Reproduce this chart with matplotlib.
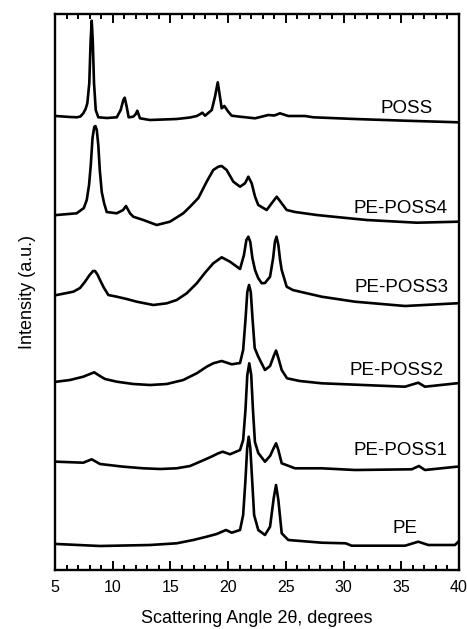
import matplotlib
matplotlib.use("Agg")
import matplotlib.pyplot as plt
from matplotlib.ticker import MultipleLocator

plt.rcParams['font.family'] = ['Liberation Sans', 'DejaVu Sans']

# ---- data (2-theta in degrees, stacked intensity in a.u.) ----
poss_x = [5.09, 6.30, 6.88, 7.20, 7.45, 7.65, 7.80, 7.97, 8.09, 8.18, 8.27, 8.38, 8.53, 8.75,
          9.50, 10.35, 10.69, 10.92, 11.04, 11.21, 11.38, 11.78, 12.00, 12.13, 12.36, 13.23,
          15.54, 16.70, 17.28, 17.60, 17.76, 18.00, 18.58, 18.86, 19.10, 19.29, 19.44, 19.67,
          20.01, 20.31, 21.03, 22.33, 23.48, 24.00, 24.49, 25.21, 26.66, 27.38, 30.99, 35.32,
          39.94]
poss_y = [454, 453, 452.7, 453.5, 456.7, 461, 466.7, 486.7, 530, 549.3, 530, 487, 460, 452.7,
          452, 452.7, 460, 470, 472.3, 463.3, 452.7, 453.3, 456, 459.3, 451.7, 450,
          451, 452.5, 454, 456, 457.3, 454.3, 460, 473.3, 487.7, 473.3, 461.7, 464,
          458.3, 454.3, 453.3, 451.7, 455, 454.5, 456.7, 454, 454, 452.7, 451, 449.3,
          447.7]

poss4_x = [5.15, 6.88, 7.50, 7.75, 7.95, 8.10, 8.25, 8.40, 8.50, 8.62, 8.75, 8.88, 9.05, 9.25,
           9.48, 10.35, 10.90, 11.15, 11.50, 11.78, 12.65, 13.81, 14.96, 16.11, 16.70, 17.42,
           18.14, 18.71, 19.15, 19.44, 19.87, 20.45, 21.03, 21.46, 21.75, 22.04, 22.33, 22.61,
           23.34, 23.77, 24.21, 24.64, 25.07, 25.80, 27.67, 29.11, 32.00, 36.34, 39.94]
poss4_y = [355, 356.7, 362, 370, 385, 405, 432, 443, 444, 440, 425, 400, 378, 367,
           358, 356.7, 360, 364, 356.7, 353.3, 350, 345, 348.3, 356.7, 363.3, 372,
           388.3, 400, 403.3, 404, 400, 388.3, 383.3, 386.7, 393.3, 386.7, 373.3, 365,
           360, 366.7, 373.3, 366.7, 360, 358, 355, 353.3, 350, 347.3, 348.3]

poss3_x = [5.15, 6.59, 7.17, 7.60, 8.00, 8.30, 8.47, 8.70, 8.90, 9.20, 9.62, 10.35, 11.21,
           12.08, 13.52, 14.68, 15.54, 16.41, 17.28, 18.00, 18.71, 19.44, 20.16, 21.03, 21.37,
           21.58, 21.75, 21.92, 22.10, 22.33, 22.60, 22.91, 23.19, 23.63, 23.90, 24.05, 24.19,
           24.35, 24.50, 24.64, 25.07, 25.60, 26.22, 28.10, 30.99, 35.32, 39.80]
poss3_y = [275, 278.3, 282, 288.3, 295, 299, 299, 295, 290, 283, 275, 273.3, 271,
           268.3, 265, 266.7, 270, 276.7, 286.7, 297.3, 306.7, 312.7, 308.3, 301, 315,
           330, 333.3, 328, 312, 300, 292, 286.7, 287, 293.3, 312, 328, 333.3,
           325, 310, 300, 283.3, 280, 278.3, 273.3, 268.3, 264, 266.7]

poss2_x = [5.15, 6.30, 7.45, 8.03, 8.40, 8.75, 9.33, 10.35, 11.78, 13.23, 14.68, 16.11, 17.28,
           18.14, 18.71, 19.44, 20.31, 21.03, 21.30, 21.50, 21.66, 21.81, 21.96, 22.12, 22.30,
           22.61, 23.19, 23.63, 23.95, 24.15, 24.35, 24.64, 25.10, 26.20, 28.10, 35.32, 36.47,
           37.05, 39.80]
poss2_y = [188.3, 190, 193.3, 196, 197.7, 195, 191, 188.3, 186, 185, 186, 190, 196.7,
           203.3, 206.7, 209, 205.7, 207, 220, 250, 278, 285, 278, 250, 222,
           213.3, 200, 204, 214, 219.5, 212, 200, 191.7, 189, 186.7, 183.3, 187.3,
           183.3, 186.7]

poss1_x = [5.15, 7.45, 8.18, 8.90, 10.92, 12.65, 14.10, 15.54, 16.70, 17.56, 18.43, 19.15,
           19.53, 20.16, 21.03, 21.30, 21.50, 21.66, 21.83, 22.00, 22.15, 22.32, 22.61, 23.19,
           23.63, 23.95, 24.15, 24.35, 24.64, 25.79, 28.10, 30.99, 35.90, 36.53, 37.05, 39.80]
poss1_y = [108.3, 107.3, 110.7, 106, 103.3, 101.7, 101, 101.7, 104, 108.3, 112.7, 116.7,
           118.3, 115.7, 120, 130, 160, 195, 206.7, 195, 160, 128, 117, 108.3,
           114, 122, 126.7, 120, 106.7, 101.7, 101.7, 100, 100.7, 104, 100, 103.3]

pe_x = [5.15, 8.90, 13.23, 15.54, 16.98, 18.14, 19.01, 19.81, 20.31, 21.03, 21.30, 21.50,
        21.65, 21.78, 21.92, 22.08, 22.25, 22.61, 23.19, 23.63, 23.95, 24.15, 24.35, 24.64,
        25.21, 28.10, 30.18, 30.70, 35.32, 36.47, 37.34, 39.65, 39.94]
pe_y = [26, 24, 25, 26.7, 30, 33.3, 36, 40, 37.3, 40, 55, 90,
        122, 133.3, 122, 90, 55, 40, 35, 43.3, 72, 85, 70, 36.7,
        30, 27.3, 26.7, 24.3, 24.3, 28.3, 25, 25, 28.3]

sample_names = ["POSS", "PE-POSS4", "PE-POSS3", "PE-POSS2", "PE-POSS1", "PE"]
label_x = [35.5, 34.9, 35.0, 34.6, 34.9, 35.3]
label_y = [456.7, 356.7, 278.3, 195, 115, 37.3]

xticks = [5, 10, 15, 20, 25, 30, 35, 40]

# ---- figure ----
fig = plt.figure(figsize=(4.67, 6.29), dpi=100)
ax = fig.add_axes([55/467, 59/629, 404/467, 556/629])

series = [(poss_x, poss_y), (poss4_x, poss4_y), (poss3_x, poss3_y),
          (poss2_x, poss2_y), (poss1_x, poss1_y), (pe_x, pe_y)]
for (xs, ys) in series:
    ax.plot(xs, ys, color='black', lw=1.9, solid_joinstyle='round')

for name, lx, ly in zip(sample_names, label_x, label_y):
    ax.text(lx, ly, name, ha='center', va='baseline', fontsize=13.5)

ax.set_xlim(5, 40)
ax.set_ylim(0, 556)
ax.set_xticks(xticks)
ax.set_xticklabels([str(t) for t in xticks])
ax.xaxis.set_minor_locator(MultipleLocator(1))
ax.set_yticks([])
ax.tick_params(axis='x', which='major', direction='in', length=6.5, width=1.4,
               top=True, bottom=True, labelsize=11.5, pad=7)
ax.tick_params(axis='x', which='minor', direction='in', length=3.5, width=1.4,
               top=True, bottom=True)
for s in ax.spines.values():
    s.set_linewidth(1.7)

ax.set_xlabel("Scattering Angle 2θ, degrees", fontsize=13, labelpad=11)
ax.set_ylabel("Intensity (a.u.)", fontsize=13, labelpad=14)

fig.savefig("out.png", dpi=100)
